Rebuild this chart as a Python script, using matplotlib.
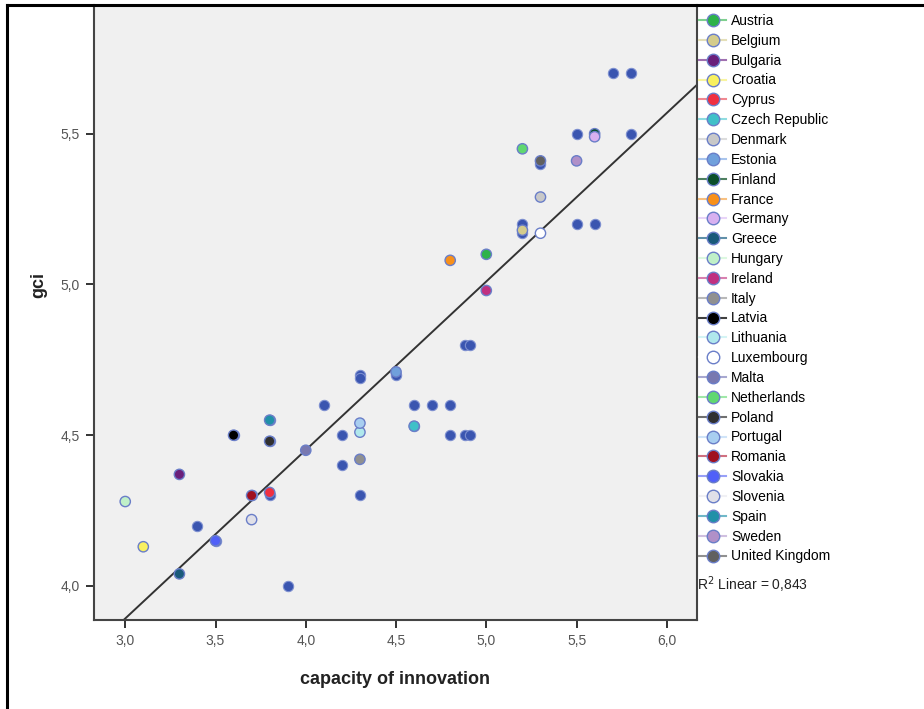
import matplotlib
matplotlib.use("Agg")
import matplotlib.pyplot as plt
from matplotlib.lines import Line2D
from matplotlib.ticker import FuncFormatter

plt.rcParams['font.family'] = ['Liberation Sans', 'DejaVu Sans']

countries = ["Austria", "Belgium", "Bulgaria", "Croatia", "Cyprus", "Czech Republic",
             "Denmark", "Estonia", "Finland", "France", "Germany", "Greece", "Hungary",
             "Ireland", "Italy", "Latvia", "Lithuania", "Luxembourg", "Malta",
             "Netherlands", "Poland", "Portugal", "Romania", "Slovakia", "Slovenia",
             "Spain", "Sweden", "United Kingdom"]
country_colors = ["#2db24a", "#d4cc8c", "#6a1f7a", "#f8f060", "#f03040", "#40c0c8",
                  "#c8c8c8", "#70a0dc", "#0b4f2a", "#f8901a", "#d8b0f0", "#1a5a7a",
                  "#c0f0c8", "#c03080", "#909090", "#000000", "#b0e8ec", "#ffffff",
                  "#7878b0", "#60d870", "#303030", "#a8cef0", "#a01020", "#5060f8",
                  "#e0e0e8", "#2090a8", "#b090c8", "#606060"]
line_colors = ["#7fd08f", "#e4dfb8", "#a070b0", "#f8f4a0", "#f08890", "#8fdce0",
               "#dcdcdc", "#a8c4ec", "#4f8060", "#f8c080", "#e8d4f8", "#6090a8",
               "#dcf8e0", "#d880b0", "#b8b8b8", "#404040", "#d4f4f4", "#ffffff",
               "#a8a8d0", "#a0e8a8", "#707070", "#d0e4f8", "#d07080", "#98a0f8",
               "#f0f0f4", "#70b8c8", "#d0c0e0", "#909090"]
country_x = [5.0, 5.2, 3.3, 3.1, 3.8, 4.6, 5.3, 4.5, 5.6, 4.8, 5.6, 3.3, 3.0, 5.0,
             4.3, 3.6, 4.3, 5.3, 4.0, 5.2, 3.8, 4.3, 3.7, 3.5, 3.7, 3.8, 5.5, 5.3]
country_y = [5.10, 5.18, 4.37, 4.13, 4.31, 4.53, 5.29, 4.71, 5.50, 5.08, 5.49, 4.04,
             4.28, 4.98, 4.42, 4.50, 4.51, 5.17, 4.45, 5.45, 4.48, 4.54, 4.30, 4.15,
             4.22, 4.55, 5.41, 5.41]

other_x = [5.7, 5.8, 5.5, 5.8, 5.3, 5.2, 5.5, 5.6, 4.88, 4.91, 4.3, 4.3, 4.5, 4.6,
           4.7, 4.8, 4.1, 4.2, 4.8, 4.88, 4.91, 4.2, 4.3, 3.4, 3.9, 3.8, 3.8, 3.8,
           3.7, 3.6, 4.6, 5.2, 3.5]
other_y = [5.70, 5.70, 5.50, 5.50, 5.40, 5.20, 5.20, 5.20, 4.80, 4.80, 4.70, 4.69,
           4.70, 4.60, 4.60, 4.60, 4.60, 4.50, 4.50, 4.50, 4.50, 4.40, 4.30, 4.20,
           4.00, 4.55, 4.48, 4.30, 4.30, 4.50, 4.53, 5.17, 4.15]

fit_intercept = 2.215
fit_slope = 0.559
r2_text = "R$^2$ Linear = 0,843"

fig = plt.figure(figsize=(9.24, 7.09), dpi=100)
ax = fig.add_axes([94 / 924, 1 - 620 / 709, 603 / 924, 615 / 709])
ax.set_facecolor("#f0f0f0")

xlim = (2.827, 6.167)
ax.set_xlim(xlim)
ax.set_ylim(3.887, 5.927)

ax.plot(xlim, [fit_intercept + fit_slope * v for v in xlim], color="#333333", lw=1.4, zorder=2)

ax.scatter(other_x, other_y, s=55, color="#3a55b0", edgecolors="#7d8fd0", linewidths=0.8, zorder=3)
ax.scatter(country_x, country_y, s=55, c=country_colors, edgecolors="#6a7ec8", linewidths=1.0, zorder=4)

ax.set_xticks([3.0, 3.5, 4.0, 4.5, 5.0, 5.5, 6.0])
ax.set_yticks([4.0, 4.5, 5.0, 5.5])
fmt = FuncFormatter(lambda v, p: f"{v:.1f}".replace(".", ","))
ax.xaxis.set_major_formatter(fmt)
ax.yaxis.set_major_formatter(fmt)
ax.tick_params(direction="out", length=6, width=1.4, color="#333333",
               labelsize=10, labelcolor="#555555", pad=4)
for side in ["left", "bottom", "right"]:
    ax.spines[side].set_color("#444444")
    ax.spines[side].set_linewidth(1.5)
ax.spines["top"].set_visible(False)

ax.set_xlabel("capacity of innovation", fontsize=13, fontweight="bold", color="#222222")
ax.xaxis.set_label_coords(0.5, -0.083)
ax.set_ylabel("gci", fontsize=13, fontweight="bold", color="#222222")
ax.yaxis.set_label_coords(-0.077, 0.545)

handles = [Line2D([0], [0], color=lc, lw=1.5, marker="o", markersize=9,
                  markerfacecolor=c, markeredgecolor="#6a7ec8", markeredgewidth=1.0)
           for c, lc in zip(country_colors, line_colors)]
fig.legend(handles, countries, loc="upper left", bbox_to_anchor=(699 / 924, 1 - 14 / 709),
           frameon=False, fontsize=10, handlelength=1.95, handletextpad=0.35,
           labelspacing=0.42, borderaxespad=0, borderpad=0)

fig.text(697 / 924, 1 - 585 / 709, r2_text, fontsize=10, va="center", ha="left", color="#222222")

# frame of the original export (top and left edges)
fig.add_artist(Line2D([7 / 924, 1], [1 - 5 / 709, 1 - 5 / 709], color="black", lw=2.2))
fig.add_artist(Line2D([7 / 924, 7 / 924], [0, 1 - 5 / 709], color="black", lw=2.2))

fig.savefig("out.png", dpi=100)
